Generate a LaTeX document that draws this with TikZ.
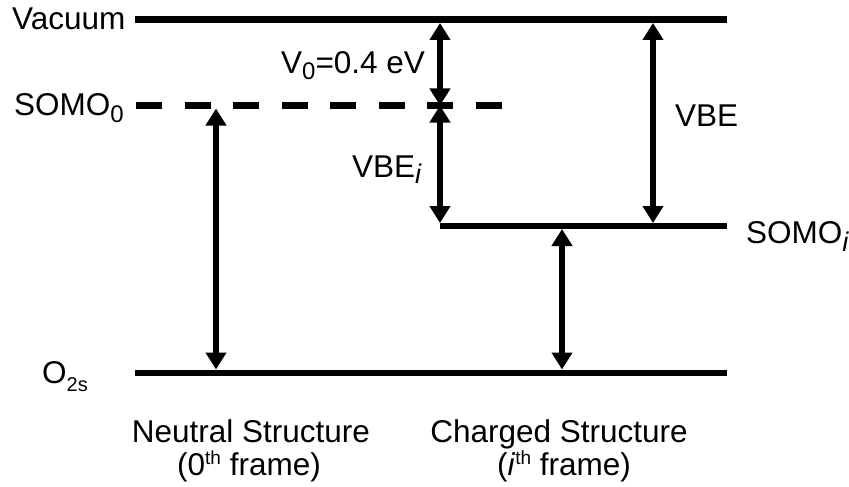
\documentclass[tikz,border=0pt]{standalone}
\usepackage{fontspec}
\setmainfont{Liberation Sans}
\usetikzlibrary{arrows.meta}
\newcommand\mysub[3][24]{\raisebox{-#2}{\fontsize{#1}{#1}\selectfont #3}}
\newcommand\mysup[1]{\raisebox{11pt}{\fontsize{19}{19}\selectfont #1}}
\begin{document}
\begin{tikzpicture}[x=1pt,y=-1pt,
  level/.style={line width=6.5pt},
  dlevel/.style={line width=6.5pt, dash pattern=on 26pt off 22.5pt},
  gap/.style={line width=5.5pt, {Triangle[width=20pt,length=17pt]}-{Triangle[width=20pt,length=17pt]}},
  lbl/.style={anchor=base west, inner sep=0pt, font=\fontsize{31.5}{34}\selectfont},
  captext/.style={anchor=base, inner sep=0pt, font=\fontsize{31.5}{34}\selectfont},
]
\useasboundingbox (0,0) rectangle (849,487);
% levels
\coordinate (vacL) at (135,19.5);  \coordinate (vacR) at (727,19.5);
\coordinate (s0L) at (136,105.5);  \coordinate (s0R) at (502,105.5);
\coordinate (siL) at (440,226);    \coordinate (siR) at (727,226);
\coordinate (o2L) at (135,373);    \coordinate (o2R) at (727,373);
\draw[level] (vacL) -- (vacR);
\draw[dlevel] (s0L) -- (s0R);
\draw[level] (siL) -- (siR);
\draw[level] (o2L) -- (o2R);
% arrow end points
\coordinate (a1t) at (216,108.5); \coordinate (a1b) at (216,369.5);
\coordinate (a2t) at (440,23);    \coordinate (a2b) at (440,105.5);
\coordinate (a3t) at (440,105.5); \coordinate (a3b) at (440,223);
\coordinate (a4t) at (653,23);    \coordinate (a4b) at (653,223);
\coordinate (a5t) at (562,229);   \coordinate (a5b) at (562,369.5);
\draw[gap] (a1t) -- (a1b);
\draw[gap] (a2t) -- (a2b);
\draw[gap] (a3t) -- (a3b);
\draw[gap] (a4t) -- (a4b);
\draw[gap] (a5t) -- (a5b);
% labels
\node[lbl] (tvac) at (12,30) {Vacuum};
\node[lbl] (ts0) at (14,115) {SOMO\mysub{7pt}{0}};
\node[lbl] (to2) at (42,383) {O\mysub[20]{8pt}{2s}};
\node[lbl] (tv0) at (281,74) {V\mysub{6pt}{0}=0.4 eV};
\node[lbl] (tvbei) at (352,177) {VBE\mysub[27]{6pt}{\itshape i}};
\node[lbl] (tvbe) at (675,126) {VBE};
\node[lbl] (tsi) at (746,243) {SOMO\mysub[27]{8pt}{\itshape i}};
\node[captext] (tn1) at (251,442) {Neutral Structure};
\node[captext] (tn2) at (249,475) {(0\mysup{th} frame)};
\node[captext] (tc1) at (559,442) {Charged Structure};
\node[captext] (tc2) at (564,475) {(\textit{i}\mysup{th} frame)};
\end{tikzpicture}
\end{document}
